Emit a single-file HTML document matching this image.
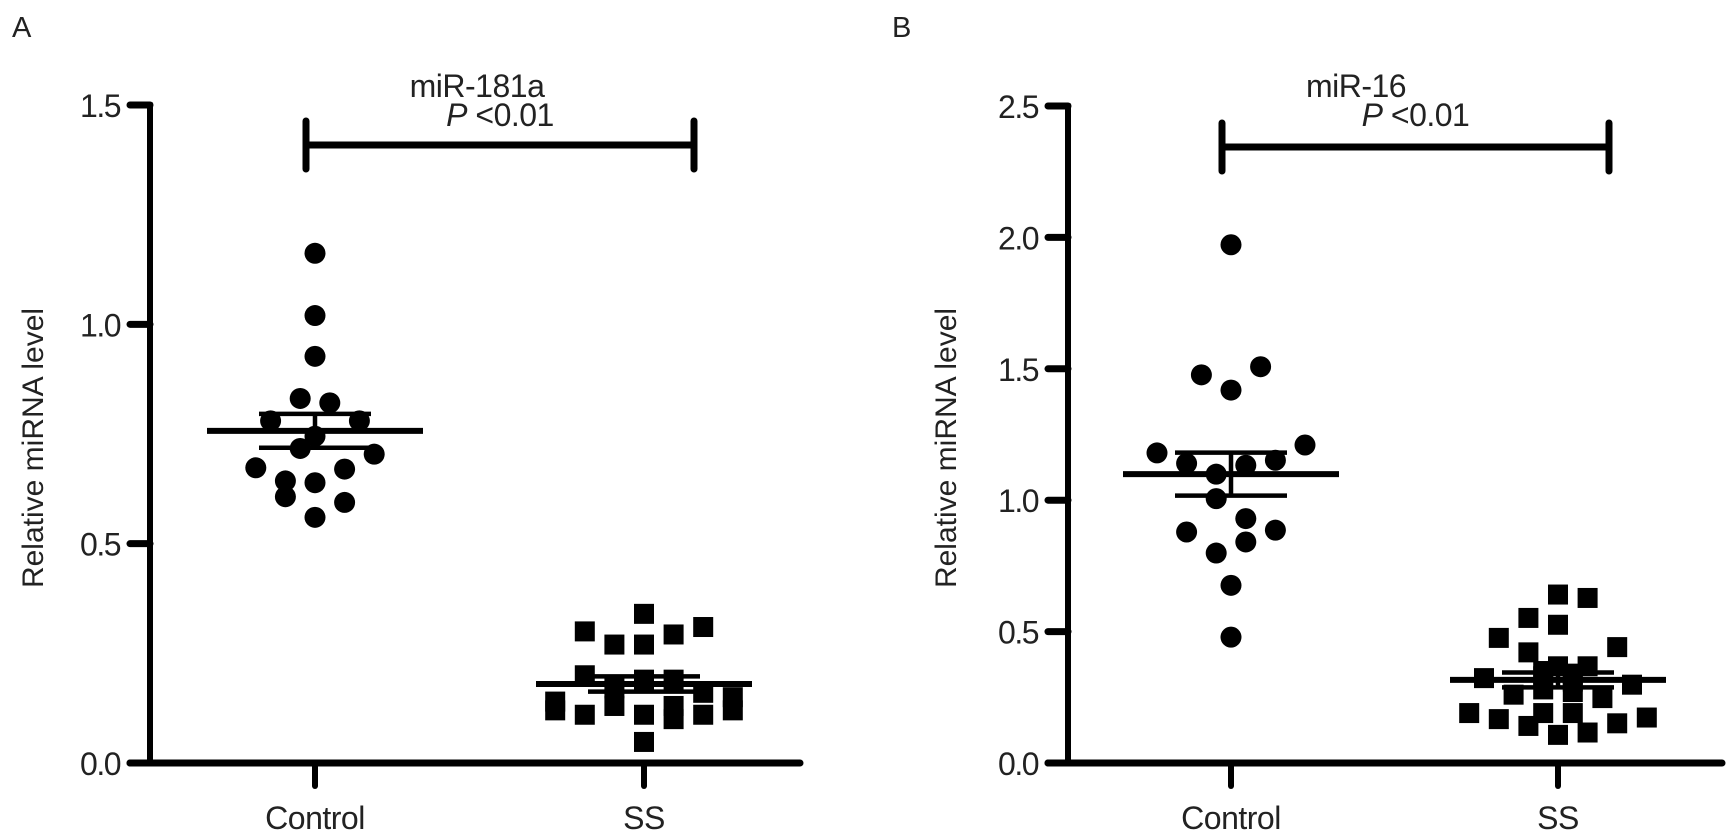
<!DOCTYPE html>
<html><head><meta charset="utf-8"><style>
html,body{margin:0;padding:0;background:#fff;}
svg{display:block;font-family:"Liberation Sans",Arial,sans-serif;}
</style></head><body>
<svg id="fig" width="1736" height="839" viewBox="0 0 1736 839"></svg>
<script>
// Panel A: miR-181a
const categoriesA = ["Control", "SS"];
const controlA = [1.162,1.02,0.927,0.831,0.821,0.78,0.78,0.745,0.717,0.704,0.673,0.67,0.643,0.639,0.607,0.594,0.56];
const controlAJit = [0,0,0,-1,1,-3,3,0,-1,4,-4,2,-2,0,-2,2,0];
const ssA = [0.34,0.30,0.31,0.293,0.27,0.27,0.20,0.19,0.19,0.17,0.16,0.15,0.14,0.13,0.13,0.12,0.12,0.11,0.11,0.11,0.10,0.048];
const ssAJit = [0,-4,4,2,-2,0,-4,0,2,-2,4,6,-6,-2,2,-6,6,-4,0,4,2,0];
const ticksA = [0, 0.5, 1.0, 1.5];
const tickLabelsA = ["0.0","0.5","1.0","1.5"];
// Panel B: miR-16
const categoriesB = ["Control", "SS"];
const controlB = [1.972,1.477,1.508,1.419,1.18,1.21,1.14,1.133,1.152,1.099,1.006,0.93,0.879,0.886,0.841,0.799,0.676,0.479];
const controlBJit = [0,-2,2,0,-5,5,-3,1,3,-1,-1,1,-3,3,1,-1,0,0];
const ssB = [0.641,0.628,0.552,0.526,0.476,0.441,0.421,0.368,0.368,0.323,0.298,0.33,0.31,0.35,0.34,0.26,0.247,0.28,0.27,0.19,0.19,0.19,0.167,0.173,0.141,0.151,0.107,0.116];
const ssBJit = [0,2,-2,0,-4,4,-2,0,2,-5,5,-1,1,-1,1,-3,3,-1,1,-1,1,-6,-4,6,-2,4,0,2];
const ticksB = [0, 0.5, 1.0, 1.5, 2.0, 2.5];
const tickLabelsB = ["0.0","0.5","1.0","1.5","2.0","2.5"];

const NS = "http://www.w3.org/2000/svg";
const svg = document.getElementById("fig");
function mk(tag, attrs, parent, text){
  const e = document.createElementNS(NS, tag);
  for (const k in attrs) e.setAttribute(k, attrs[k]);
  if (text !== undefined) e.textContent = text;
  (parent || svg).appendChild(e);
  return e;
}
function stats(a){
  const m = a.reduce((s,v)=>s+v,0)/a.length;
  const sd = Math.sqrt(a.reduce((s,v)=>s+(v-m)*(v-m),0)/(a.length-1));
  return {m, se: sd/Math.sqrt(a.length)};
}
const FS = 32;

function panel(cfg){
  const g = mk("g", {});
  
  
  const y = v => cfg.y0 - (v / cfg.ymax) * (cfg.y0 - cfg.yTop);
  const xc = [cfg.xC, cfg.xS];
  const L = mk("text", {x: cfg.letterX, y: 37, "font-size": 29, fill: "#222"}, g, cfg.letter);
  
  
  const T = mk("text", {x: cfg.titleX, y: 97, "font-size": FS, "text-anchor": "middle", fill: "#222", "letter-spacing": "-0.5"}, g, cfg.title);
  
  
  const ya = mk("line", {x1: cfg.ax, y1: y(cfg.ymax) - 2.5, x2: cfg.ax, y2: cfg.y0 + 2.5, stroke: "#000", "stroke-width": 6}, g);
  
  
  const xa = mk("line", {x1: cfg.ax - 20, y1: cfg.y0, x2: cfg.axEnd, y2: cfg.y0, stroke: "#000", "stroke-width": 7, "stroke-linecap": "round"}, g);
  
  
  cfg.ticks.forEach((t, i) => {
    const tl = mk("line", {x1: cfg.ax - 20, y1: y(t), x2: cfg.ax, y2: y(t), stroke: "#000", "stroke-width": 7, "stroke-linecap": "round"}, g);
    
    
    const tx = mk("text", {x: cfg.ax - 30, y: y(t) + 12, "font-size": FS, "text-anchor": "end", fill: "#222", "letter-spacing": "-1.5"}, g, cfg.tickLabels[i]);
    
    
  });
  cfg.cats.forEach((c, i) => {
    const tl = mk("line", {x1: xc[i], y1: cfg.y0, x2: xc[i], y2: cfg.y0 + 23, stroke: "#000", "stroke-width": 6, "stroke-linecap": "round"}, g);
    
    
    const tx = mk("text", {x: xc[i], y: 829, "font-size": FS, "text-anchor": "middle", fill: "#222", "letter-spacing": "-0.5"}, g, c);
    
    
  });
  const yt = mk("text", {x: 0, y: 0, "font-size": 30, "text-anchor": "middle", fill: "#222", transform: `translate(${cfg.ylabX},448) rotate(-90)`}, g, "Relative miRNA level");
  
  
  const br = mk("path", {d: `M${cfg.brL},${cfg.brY - 24}V${cfg.brY + 24}M${cfg.brL},${cfg.brY}H${cfg.brR}M${cfg.brR},${cfg.brY - 24}V${cfg.brY + 24}`, stroke: "#000", "stroke-width": 7, "stroke-linecap": "round", fill: "none"}, g);
  
  
  const pt = mk("text", {x: (cfg.brL + cfg.brR) / 2, y: 126, "font-size": FS, "text-anchor": "middle", fill: "#222", "letter-spacing": "-0.5"}, g);
  
  
  mk("tspan", {"font-style": "italic"}, pt, "P");
  mk("tspan", {}, pt, " <0.01");
  const half = 14.8;
  cfg.ctrl.forEach((v, i) => {
    const c = mk("circle", {cx: cfg.xC + cfg.ctrlJ[i] * half, cy: y(v), r: 10.5, fill: "#000"}, g);
    
    
  });
  cfg.ss.forEach((v, i) => {
    const s = mk("rect", {x: cfg.xS + cfg.ssJ[i] * half - 10, y: y(v) - 10, width: 20, height: 20, fill: "#000"}, g);
    
    
  });
  [cfg.ctrl, cfg.ss].forEach((arr, i) => {
    const st = stats(arr);
    const ml = mk("line", {x1: xc[i] - 108, y1: y(st.m), x2: xc[i] + 108, y2: y(st.m), stroke: "#000", "stroke-width": 6}, g);
    
    
    const eb = mk("path", {d: `M${xc[i]},${y(st.m + st.se)}V${y(st.m - st.se)}M${xc[i] - 56},${y(st.m + st.se)}H${xc[i] + 56}M${xc[i] - 56},${y(st.m - st.se)}H${xc[i] + 56}`, stroke: "#000", "stroke-width": 4.5, fill: "none"}, g);
    
    
  });
}

panel({name: "panel-a-mir181a", letter: "A", letterX: 12, title: "miR-181a", titleX: 477,
  ax: 150, axEnd: 800, y0: 763, yTop: 105, ymax: 1.5, xC: 315, xS: 644,
  ticks: ticksA, tickLabels: tickLabelsA, cats: categoriesA, ylabX: 43,
  brL: 306, brR: 694, brY: 145, ctrl: controlA, ctrlJ: controlAJit, ss: ssA, ssJ: ssAJit});
panel({name: "panel-b-mir16", letter: "B", letterX: 892, title: "miR-16", titleX: 1356,
  ax: 1068, axEnd: 1722, y0: 763, yTop: 106, ymax: 2.5, xC: 1231, xS: 1558,
  ticks: ticksB, tickLabels: tickLabelsB, cats: categoriesB, ylabX: 956,
  brL: 1222, brR: 1609, brY: 147, ctrl: controlB, ctrlJ: controlBJit, ss: ssB, ssJ: ssBJit});
</script>
</body></html>
